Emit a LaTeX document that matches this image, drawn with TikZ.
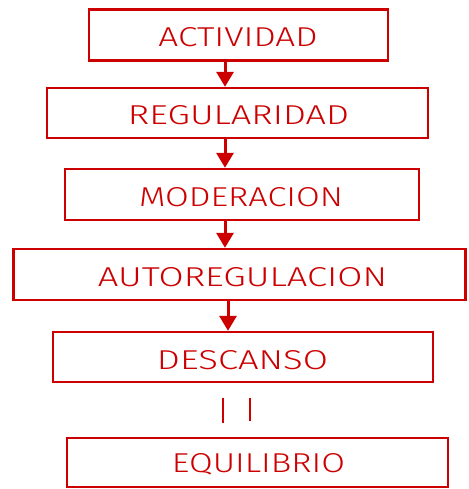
\documentclass[tikz,border=0pt]{standalone}
\usepackage{fontspec}
\usepackage{graphicx}
\newfontfamily\boxfont{Fira Sans Light}
\usetikzlibrary{arrows.meta}
\definecolor{boxred}{RGB}{204,0,0}
\newcommand{\fitlabel}[2]{\resizebox{#1pt}{19pt}{\boxfont #2}}
\tikzset{
  stagebox/.style={draw=boxred, line width=2.4pt, fill=white, inner sep=0pt, text=boxred},
  flowarrow/.style={draw=boxred, line width=3pt, -{Triangle[width=17pt,length=15pt]}},
  eqbar/.style={draw=boxred, line width=2.8pt}
}
\begin{document}
\begin{tikzpicture}[x=1pt,y=-1pt]
\useasboundingbox (0,0) rectangle (468,489);
\node[stagebox, minimum width=299pt, minimum height=51pt] (b1) at (238.5,35) {};
\node[stagebox, minimum width=381pt, minimum height=50pt] (b2) at (237.5,113) {};
\node[stagebox, minimum width=354pt, minimum height=51pt] (b3) at (242,194.5) {};
\node[stagebox, minimum width=452pt, minimum height=51pt] (b4) at (239.5,274.5) {};
\node[stagebox, minimum width=380pt, minimum height=50pt] (b5) at (243,357) {};
\node[stagebox, minimum width=381pt, minimum height=49pt] (b6) at (257.5,462.5) {};
\node[text=boxred, inner sep=0pt] (t1) at (238,37.5) {\fitlabel{159}{ACTIVIDAD}};
\node[text=boxred, inner sep=0pt] (t2) at (238.5,115.5) {\fitlabel{221}{REGULARIDAD}};
\node[text=boxred, inner sep=0pt] (t3) at (241,197) {\fitlabel{204}{MODERACION}};
\node[text=boxred, inner sep=0pt] (t4) at (242.5,277) {\fitlabel{289}{AUTOREGULACION}};
\node[text=boxred, inner sep=0pt] (t5) at (242.5,360) {\fitlabel{171}{DESCANSO}};
\node[text=boxred, inner sep=0pt] (t6) at (258.5,464.5) {\fitlabel{173}{EQUILIBRIO}};
\coordinate (a1) at (225,0);
\coordinate (a4) at (228,0);
\draw[flowarrow] (b1.south -| a1) -- (b2.north -| a1);
\draw[flowarrow] (b2.south -| a1) -- (b3.north -| a1);
\draw[flowarrow] (b3.south -| a1) -- (b4.north -| a1);
\draw[flowarrow] (b4.south -| a4) -- (b5.north -| a4);
\coordinate (p1) at (223,398);
\coordinate (p2) at (223,423);
\coordinate (q1) at (250,398);
\coordinate (q2) at (250,421);
\draw[eqbar] (p1) -- (p2);
\draw[eqbar] (q1) -- (q2);
\end{tikzpicture}
\end{document}
